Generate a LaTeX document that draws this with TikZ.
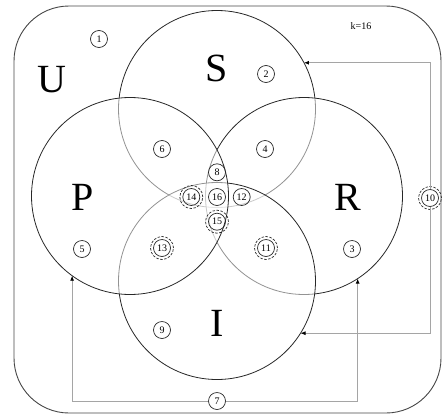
\documentclass[tikz,border=0pt]{standalone}
\usepackage{fontspec}
\setmainfont{Liberation Serif}
\usetikzlibrary{positioning, arrows.meta}
\definecolor{setline}{RGB}{40,40,40}
\definecolor{linkline}{RGB}{165,165,165}
\definecolor{frameline}{RGB}{70,70,70}

\begin{document}
\begin{tikzpicture}[
    x=1pt, y=-1pt,
    setcircle/.style={draw=setline, circle, line width=0.8pt, minimum size=197pt, inner sep=0pt, outer sep=0pt, fill=white, fill opacity=0.5},
    setname/.style={font=\fontsize{40}{40}\selectfont, inner sep=0pt},
    region/.style={draw=setline, circle, line width=0.7pt, minimum size=17pt, inner sep=0pt, font=\fontsize{10}{10}\selectfont},
    ring/.style={draw=setline, line width=0.7pt, dash pattern=on 2.5pt off 1.5pt},
    link/.style={draw=linkline, line width=0.8pt, -{Latex[color=black, length=5pt, width=4pt]}}
]
\useasboundingbox (0,0) rectangle (443,415);

% ---------- Frame ----------
\draw[frameline, line width=0.9pt, rounded corners=55pt] (14,6) rectangle (441,413);

% ---------- Sets ----------
\node[setcircle] (S) at (217,109) {};
\node[setcircle] (R) at (304,196) {};
\node[setcircle] (I) at (217,281) {};
\node[setcircle] (P) at (130,196) {};

\node[setname] (Uname) at (52,80) {U};
\node[setname] (Sname) at (217,68) {S};
\node[setname] (Pname) at (83,197) {P};
\node[setname] (Rname) at (348,197) {R};
\node[setname] (Iname) at (217,323) {I};
\node[font=\fontsize{10}{10}\selectfont] (kval) at (361,26) {k=16};

% ---------- Regions ----------
\node[region] (n1) at (99,39) {1};
\node[region] (n2) at (266,74) {2};
\node[region] (n3) at (352,249) {3};
\node[region] (n4) at (265,149) {4};
\node[region] (n5) at (82,249) {5};
\node[region] (n6) at (162,149) {6};
\node[region] (n7) at (217,401) {7};
\node[region] (n9) at (162,330) {9};
\node[region] (n10) at (430,198) {10};
\node[region] (n11) at (266,248) {11};
\node[region] (n13) at (162,248) {13};
\node[region] (n16) at (217,197) {16};
\node[region, above=7pt of n16] (n8) {8};
\node[region, right=7pt of n16] (n12) {12};
\node[region, left=8pt of n16] (n14) {14};
\node[region, below=7pt of n16] (n15) {15};

\foreach \n in {10,11,13,14,15}
  \draw[ring] (n\n) circle[radius=11.5pt];

% ---------- Links ----------
\draw[link] (n10) |- (S.28);
\draw[link] (n10) |- (I.-32);
\draw[link] (n7) -| (P.234);
\draw[link] (n7) -| (R.303);

\end{tikzpicture}
\end{document}
